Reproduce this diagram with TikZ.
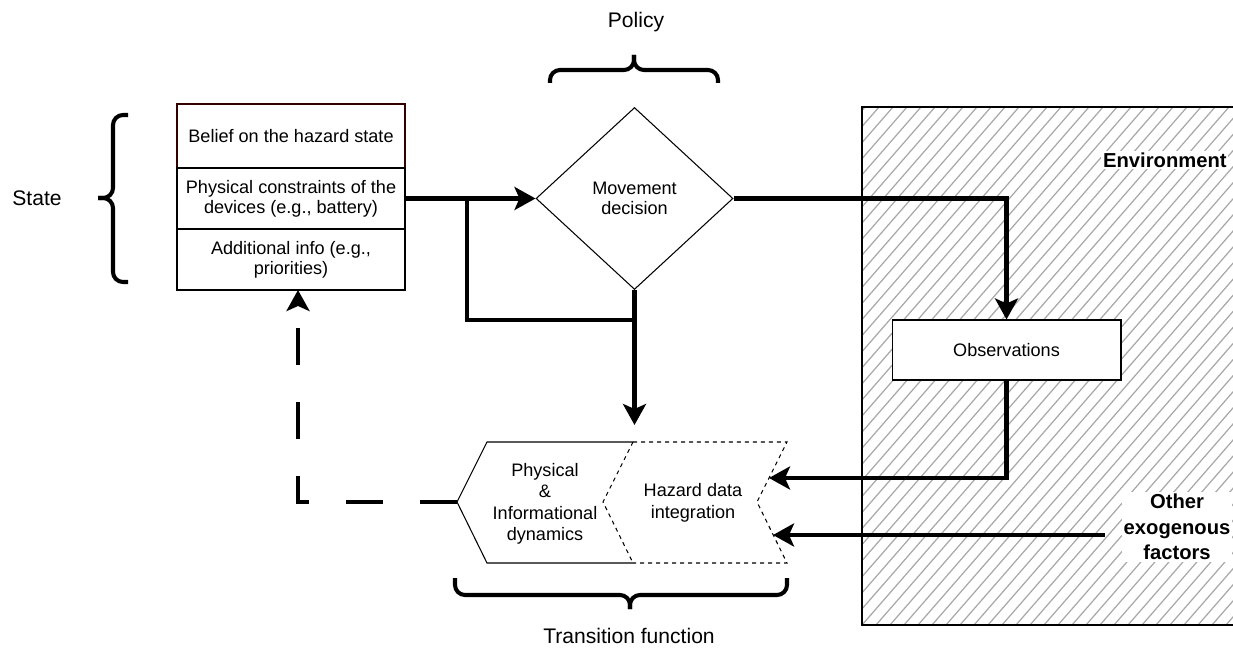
\documentclass[tikz,border=0pt]{standalone}
\usepackage{fontspec}
\setmainfont{Liberation Sans}
\usetikzlibrary{arrows.meta,shapes.geometric}
\definecolor{beliefline}{HTML}{330000}
\definecolor{hatchgray}{HTML}{A8A8A8}
\tikzset{
  cell/.style={draw, line width=0.6pt, minimum width=4.56cm, align=center, inner sep=0pt, fill=white},
  flow/.style={line width=2.3pt, -{Stealth[length=0.42cm,width=0.46cm,inset=0.1cm]}},
  link/.style={line width=2.3pt},
  feedback/.style={flow, dash pattern=on 0.74cm off 0.74cm},
  stepline/.style={line width=0.6pt},
  stepdash/.style={line width=0.6pt, dash pattern=on 0.08cm off 0.08cm},
  bracket/.style={line width=2.3pt, rounded corners=0.2cm},
  hatch/.style={hatchgray, line width=0.7pt},
  bracelabel/.style={font=\fontsize{12}{14}\selectfont},
  boldlabel/.style={fill=white, inner sep=1pt, align=center, font=\fontsize{11.5}{14.5}\selectfont\bfseries},
}

\begin{document}
\begin{tikzpicture}[x=0.02cm, y=-0.02cm, font=\fontsize{10.3}{11.4}\selectfont]
      \useasboundingbox (0,0) rectangle (1233,648);
      \clip (0,0) rectangle (1233,648);

      \begin{scope}
        \clip (862,107) rectangle (1240,625);
        \foreach \k in {0,...,62}
          \draw[hatch] (400+\k*14,625) -- ++(451,-518);
      \end{scope}
      \draw[stepline] (862,107) rectangle (1240,625);
      \node[boldlabel, anchor=west] (envlabel) at (1101,160) {Environment};
      \node[boldlabel] (other) at (1177,527) {Other\\exogenous\\factors};

      \node[cell, draw=beliefline, minimum height=1.28cm] (belief) at (291,136) {Belief on the hazard state};
      \node[cell, minimum height=1.22cm] (physical) at (291,198.5) {Physical constraints of the\\devices (e.g., battery)};
      \node[cell, minimum height=1.22cm] (additional) at (291,259.5) {Additional info (e.g.,\\priorities)};

      \node[draw, diamond, line width=0.6pt, minimum width=3.94cm, minimum height=3.64cm, inner sep=0pt, align=center] (decision) at (634.5,198.5) {Movement\\decision};
      \node[cell, minimum width=4.58cm, minimum height=1.2cm] (obs) at (1006.5,350) {Observations};

      \coordinate (split) at (467,198.5);
      \coordinate (join) at (634.5,320);
      \coordinate (dyntop) at (634.5,425);
      \coordinate (dynleft) at (457,502);
      \coordinate (hazin) at (769,478);
      \coordinate (hazin2) at (773,535);
      \coordinate (otherout) at (1105,535);
      \coordinate (fbtip) at (298,290);

      \draw[stepline] (633,442) -- (487,442) -- (dynleft) -- (487,563) -- (633,563);
      \draw[stepdash] (633,442) -- (603,502) -- (633,563);
      \draw[stepdash] (633,442) -- (787,442) -- (757,502) -- (787,563) -- (633,563);
      \node[align=center, font=\fontsize{10.3}{12.2}\selectfont] (dyntext) at (545,504) {Physical\\\&\\Informational\\dynamics};
      \node[align=center, font=\fontsize{10.3}{12.2}\selectfont] (hazardtext) at (693,503) {Hazard data\\integration};

      \draw[flow] (physical.east) -- (decision.west);
      \draw[link] (split) |- (join);
      \draw[flow] (decision.south) -- (dyntop);
      \draw[flow] (decision.east) -| (obs.north);
      \draw[flow] (obs.south) |- (hazin);
      \draw[flow] (otherout) -- (hazin2);
      \draw[feedback] (dynleft) -| (fbtip);

      \draw[bracket] (128,115) -- (113,115) -- (113,198) -- (98,198);
      \draw[bracket] (128,282) -- (113,282) -- (113,198) -- (98,198);
      \draw[bracket] (550,83) -- (550,70) -- (634,70) -- (634,55);
      \draw[bracket] (718,83) -- (718,70) -- (634,70) -- (634,55);
      \draw[bracket] (455,578) -- (455,595) -- (630,595) -- (630,609);
      \draw[bracket] (787,578) -- (787,595) -- (630,595) -- (630,609);

      \node[bracelabel] (statelabel) at (37,198) {State};
      \node[bracelabel] (policylabel) at (636,22) {Policy};
      \node[bracelabel] (translabel) at (629,636) {Transition function};
    \end{tikzpicture}
\end{document}
